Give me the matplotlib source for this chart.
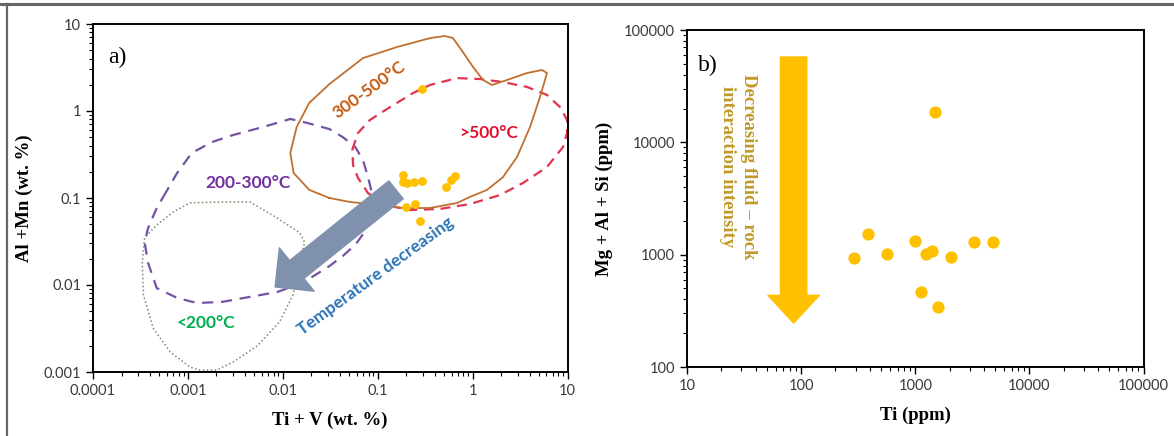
import numpy as np
import matplotlib
matplotlib.use("Agg")
import matplotlib.pyplot as plt
from matplotlib.lines import Line2D
from matplotlib.ticker import LogLocator, NullFormatter

# ---- panel a data (wt. %) ----
a_tiv = [0.29, 0.186, 0.183, 0.206, 0.239, 0.296, 0.52, 0.59, 0.65, 0.197, 0.245, 0.279]
a_almn = [1.77, 0.184, 0.154, 0.148, 0.154, 0.158, 0.135, 0.161, 0.179, 0.079, 0.085, 0.055]

# field outlines (Ti+V, Al+Mn)
f300_x = [0.031, 0.019, 0.013, 0.012, 0.014, 0.019, 0.031, 0.070, 0.16, 0.36, 0.51, 0.62, 0.79, 1.01,
          1.29, 1.6, 2.3, 3.74, 5.38, 6.08, 5.13, 4.03, 2.94, 2.09, 1.42, 0.94, 0.686, 0.356, 0.185,
          0.106, 0.051, 0.031]
f300_y = [0.100, 0.124, 0.194, 0.33, 0.655, 1.24, 2.04, 4.06, 5.44, 6.9, 7.28, 6.9, 4.76, 3.21,
          2.27, 1.99, 2.27, 2.73, 2.96, 2.73, 1.45, 0.655, 0.296, 0.174, 0.124, 0.103, 0.0877,
          0.0767, 0.0767, 0.0832, 0.090, 0.100]
f500_x = [0.054, 0.062, 0.083, 0.135, 0.236, 0.356, 0.686, 1.2, 2.09, 3.74, 6.08, 8.34, 9.9, 9.9,
          8.97, 6.08, 3.4, 1.94, 0.94, 0.453, 0.219, 0.119, 0.079, 0.062, 0.055, 0.054]
f500_y = [0.36, 0.56, 0.79, 1.11, 1.61, 1.99, 2.39, 2.33, 2.15, 1.89, 1.53, 1.11, 0.79, 0.56,
          0.386, 0.227, 0.149, 0.108, 0.0853, 0.0748, 0.0728, 0.0832, 0.114, 0.17, 0.239, 0.36]
f200_x = [0.00055, 0.00077, 0.0011, 0.0018, 0.003, 0.0062, 0.012, 0.018, 0.031, 0.043, 0.058, 0.070,
          0.079, 0.087, 0.083, 0.072, 0.058, 0.043, 0.031, 0.016, 0.0087, 0.0045, 0.0023, 0.00125,
          0.00077, 0.00047, 0.00038, 0.00035, 0.00038, 0.00047, 0.00055]
f200_y = [0.103, 0.194, 0.33, 0.44, 0.53, 0.655, 0.81, 0.73, 0.62, 0.50, 0.386, 0.273, 0.174, 0.114,
          0.064, 0.040, 0.029, 0.0216, 0.0165, 0.0105, 0.0083, 0.0073, 0.0064, 0.0062, 0.0071,
          0.0092, 0.018, 0.031, 0.045, 0.077, 0.103]
flow_x = [0.00105, 0.0023, 0.0045, 0.0087, 0.015, 0.017, 0.015, 0.0128, 0.0093, 0.0054, 0.003,
          0.002, 0.00134, 0.00105, 0.00065, 0.00043, 0.00034, 0.00033, 0.00035, 0.00047, 0.0007,
          0.00105]
flow_y = [0.088, 0.090, 0.090, 0.059, 0.040, 0.031, 0.018, 0.0077, 0.0038, 0.0020, 0.0013,
          0.00105, 0.00105, 0.00114, 0.0017, 0.0032, 0.0077, 0.018, 0.035, 0.049, 0.069, 0.088]

# ---- panel b data (ppm) ----
b_ti = [1483, 385, 290, 561, 993, 1231, 1406, 2047, 3253, 4768, 1112, 1577]
b_mgalsi = [18500, 1517, 940, 1012, 1322, 1012, 1084, 957, 1286, 1286, 461, 340]

GOLD = "#ffc000"
SERIF = ["Liberation Serif", "DejaVu Serif"]
SANS = ["Lato", "DejaVu Sans"]
TICKC = "#3a3a3a"

fig = plt.figure(figsize=(11.74, 4.36), dpi=100)


def style_axis(ax, xt, xl, yt, yl):
    ax.set_xscale("log"); ax.set_yscale("log")
    ax.set_xticks(xt); ax.set_xticklabels(xl)
    ax.set_yticks(yt); ax.set_yticklabels(yl)
    ax.xaxis.set_minor_locator(LogLocator(base=10, subs=np.arange(2, 10), numticks=20))
    ax.yaxis.set_minor_locator(LogLocator(base=10, subs=np.arange(2, 10), numticks=20))
    ax.xaxis.set_minor_formatter(NullFormatter()); ax.yaxis.set_minor_formatter(NullFormatter())
    ax.tick_params(which="major", direction="out", length=5, width=1.0, labelsize=10.5,
                   labelcolor=TICKC, top=False, right=False)
    ax.tick_params(which="minor", direction="out", length=3, width=0.8, top=False, right=False)
    for lab in ax.get_xticklabels() + ax.get_yticklabels():
        lab.set_family(SANS)
    for s in ax.spines.values():
        s.set_linewidth(1.4)


# ---- panel a ----
ax = fig.add_axes([93 / 1174, 64 / 436, 474.5 / 1174, 348 / 436])
style_axis(ax, [1e-4, 1e-3, 1e-2, 1e-1, 1, 10], ["0.0001", "0.001", "0.01", "0.1", "1", "10"],
           [1e-3, 1e-2, 1e-1, 1, 10], ["0.001", "0.01", "0.1", "1", "10"])
ax.set_xlim(1e-4, 10); ax.set_ylim(1e-3, 10)

ax.plot(flow_x, flow_y, color="#7d8a6c", lw=1.1, ls=(0, (1, 1.6)))
ax.plot(f200_x, f200_y, color="#7553a3", lw=1.6, ls=(0, (5, 3.5)))
ax.plot(f500_x, f500_y, color="#e2344f", lw=1.6, ls=(0, (4.5, 3)))
ax.plot(f300_x, f300_y, color="#c0702e", lw=1.3)
ax.scatter(a_tiv, a_almn, s=40, color=GOLD, zorder=4, linewidths=0)

ax.annotate("", xy=(0.0083, 0.0095), xytext=(0.156, 0.124),
            arrowprops=dict(arrowstyle="simple,head_length=20,head_width=40,tail_width=16.5",
                            mutation_scale=1, color="#7f91ad", shrinkA=0, shrinkB=0), zorder=5)

LBL = dict(fontsize=12.5, fontweight="bold", family=SANS, ha="center", va="center")
ax.text(0.081, 1.74, "300-500°C", color="#c55a11", rotation=36, rotation_mode="anchor", **LBL)
ax.text(1.46, 0.555, ">500°C", color="#e0102f", **LBL)
ax.text(0.00434, 0.148, "200-300°C", color="#7030a0", **LBL)
ax.text(0.00156, 0.00363, "<200°C", color="#00b050", **LBL)
ax.text(0.096, 0.0125, "Temperature decreasing", color="#2e75b6", rotation=36,
        rotation_mode="anchor", **LBL)
ax.text(0.032, 0.905, "a)", transform=ax.transAxes, fontsize=17, family=SERIF, ha="left", va="center")
ax.set_xlabel("Ti + V (wt. %)", fontsize=13.5, fontweight="bold", family=SERIF, labelpad=10)
ax.set_ylabel("Al +Mn (wt. %)", fontsize=13.5, fontweight="bold", family=SERIF, labelpad=8)

# ---- panel b ----
bx = fig.add_axes([687 / 1174, 69 / 436, 456.5 / 1174, 337 / 436])
style_axis(bx, [10, 100, 1000, 10000, 100000], ["10", "100", "1000", "10000", "100000"],
           [100, 1000, 10000, 100000], ["100", "1000", "10000", "100000"])
bx.set_xlim(10, 100000); bx.set_ylim(100, 100000)
bx.scatter(b_ti, b_mgalsi, s=78, color=GOLD, zorder=4, linewidths=0)
bx.annotate("", xy=(86, 246), xytext=(86, 57500),
            arrowprops=dict(arrowstyle="simple,head_length=20,head_width=37,tail_width=19",
                            mutation_scale=1, color=GOLD, shrinkA=0, shrinkB=0), zorder=3)
bx.text(0.111, 0.87, "Decreasing fluid – rock\ninteraction intensity", transform=bx.transAxes,
        rotation=-90, ha="center", va="top", color="#bf9a2a", fontsize=13.5, fontweight="bold",
        family=SERIF, linespacing=1.3)
bx.text(0.025, 0.895, "b)", transform=bx.transAxes, fontsize=17, family=SERIF, ha="left", va="center")
bx.set_xlabel("Ti (ppm)", fontsize=13.5, fontweight="bold", family=SERIF, labelpad=10)
bx.set_ylabel("Mg + Al + Si (ppm)", fontsize=13.5, fontweight="bold", family=SERIF, labelpad=8)

# outer frame lines (top and left)
fig.add_artist(Line2D([0, 1], [1 - 4 / 436, 1 - 4 / 436], transform=fig.transFigure,
                      color="#666666", lw=2.2))
fig.add_artist(Line2D([7 / 1174, 7 / 1174], [0, 1 - 4 / 436], transform=fig.transFigure,
                      color="#666666", lw=1.6))

fig.savefig("out.png", dpi=100)
